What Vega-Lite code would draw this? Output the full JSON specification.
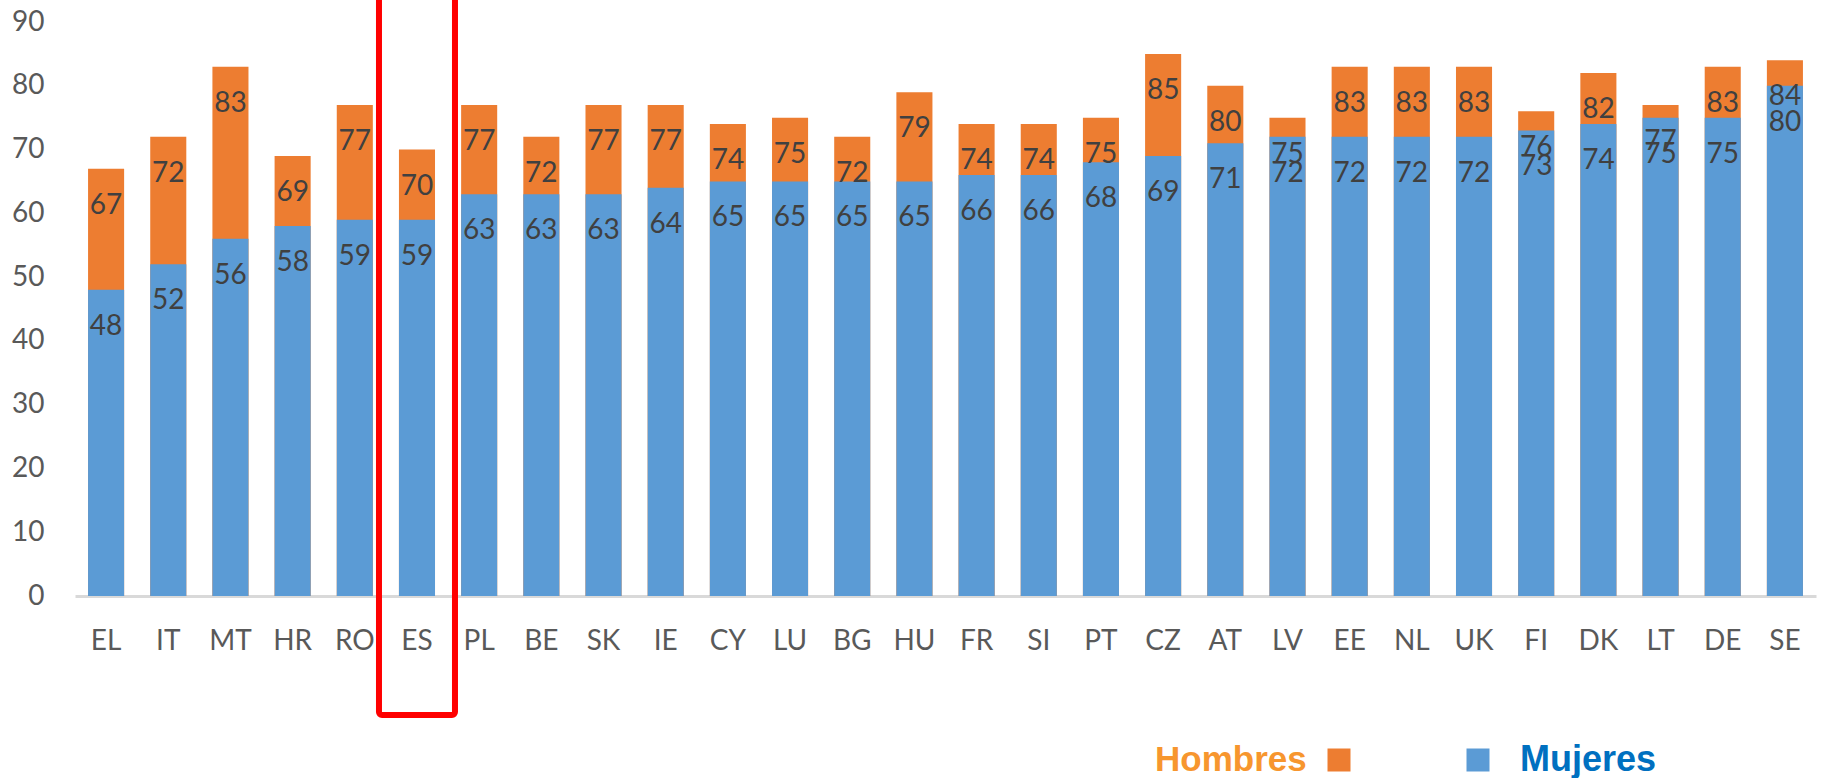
{
  "$schema": "https://vega.github.io/schema/vega-lite/v6.json",
  "width": 1741,
  "height": 574,
  "autosize": {"type": "none"},
  "padding": {"left": 75, "top": 22, "right": 8, "bottom": 182},
  "background": "white",
  "config": {"view": {"stroke": null}, "font": "Lato"},
  "data": {
    "values": [
      {"country": "EL", "mujeres": 48, "hombres": 67},
      {"country": "IT", "mujeres": 52, "hombres": 72},
      {"country": "MT", "mujeres": 56, "hombres": 83},
      {"country": "HR", "mujeres": 58, "hombres": 69},
      {"country": "RO", "mujeres": 59, "hombres": 77},
      {"country": "ES", "mujeres": 59, "hombres": 70},
      {"country": "PL", "mujeres": 63, "hombres": 77},
      {"country": "BE", "mujeres": 63, "hombres": 72},
      {"country": "SK", "mujeres": 63, "hombres": 77},
      {"country": "IE", "mujeres": 64, "hombres": 77},
      {"country": "CY", "mujeres": 65, "hombres": 74},
      {"country": "LU", "mujeres": 65, "hombres": 75},
      {"country": "BG", "mujeres": 65, "hombres": 72},
      {"country": "HU", "mujeres": 65, "hombres": 79},
      {"country": "FR", "mujeres": 66, "hombres": 74},
      {"country": "SI", "mujeres": 66, "hombres": 74},
      {"country": "PT", "mujeres": 68, "hombres": 75},
      {"country": "CZ", "mujeres": 69, "hombres": 85},
      {"country": "AT", "mujeres": 71, "hombres": 80},
      {"country": "LV", "mujeres": 72, "hombres": 75},
      {"country": "EE", "mujeres": 72, "hombres": 83},
      {"country": "NL", "mujeres": 72, "hombres": 83},
      {"country": "UK", "mujeres": 72, "hombres": 83},
      {"country": "FI", "mujeres": 73, "hombres": 76},
      {"country": "DK", "mujeres": 74, "hombres": 82},
      {"country": "LT", "mujeres": 75, "hombres": 77},
      {"country": "DE", "mujeres": 75, "hombres": 83},
      {"country": "SE", "mujeres": 80, "hombres": 84}
    ]
  },
  "encoding": {
    "x": {
      "field": "country",
      "type": "nominal",
      "sort": null,
      "scale": {"paddingInner": 0.42, "paddingOuter": 0.21},
      "axis": {
        "title": null,
        "labelAngle": 0,
        "ticks": false,
        "tickSize": 0,
        "labelPadding": 45,
        "labelBaseline": "middle",
        "labelFont": "Lato",
        "labelFontSize": 28,
        "labelColor": "#595959",
        "domainColor": "#D9D9D9",
        "domainWidth": 3,
        "grid": false
      }
    }
  },
  "layer": [
    {
      "mark": {"type": "bar"},
      "encoding": {
        "y": {
          "field": "hombres",
          "type": "quantitative",
          "stack": null,
          "scale": {"domain": [0, 90], "nice": false},
          "axis": {
            "title": null,
            "values": [0, 10, 20, 30, 40, 50, 60, 70, 80, 90],
            "domain": false,
            "ticks": false,
            "tickSize": 0,
            "grid": false,
            "labelPadding": 31,
            "labelFont": "Lato",
            "labelFontSize": 28,
            "labelColor": "#595959"
          }
        },
        "color": {
          "datum": "Hombres",
          "type": "nominal",
          "scale": {"domain": ["Hombres", "Mujeres"], "range": ["#ED7D31", "#5B9BD5"]},
          "legend": {
            "orient": "none",
            "legendX": 1080,
            "legendY": 720,
            "direction": "horizontal",
            "title": "Hombres",
            "titleOrient": "left",
            "titleColor": "#F7962E",
            "titleFont": "Liberation Sans",
            "titleFontSize": 35,
            "titleFontWeight": "bold",
            "titlePadding": 14,
            "labelExpr": "datum.label == 'Hombres' ? '' : datum.label",
            "labelColor": "#0070C0",
            "labelFont": "Liberation Sans",
            "labelFontSize": 36,
            "labelFontWeight": "bold",
            "labelOffset": 24,
            "symbolType": "square",
            "symbolSize": 529,
            "symbolStrokeWidth": 0,
            "symbolOpacity": 1,
            "columnPadding": 79
          }
        }
      }
    },
    {
      "mark": {"type": "bar"},
      "encoding": {
        "y": {"field": "mujeres", "type": "quantitative", "stack": null},
        "color": {"datum": "Mujeres", "type": "nominal"}
      }
    },
    {
      "mark": {"type": "text", "dy": 37, "baseline": "middle", "font": "Lato", "fontSize": 28, "color": "#404040"},
      "encoding": {
        "y": {"field": "hombres", "type": "quantitative"},
        "text": {"field": "hombres", "type": "quantitative"}
      }
    },
    {
      "mark": {"type": "text", "dy": 37, "baseline": "middle", "font": "Lato", "fontSize": 28, "color": "#404040"},
      "encoding": {
        "y": {"field": "mujeres", "type": "quantitative"},
        "text": {"field": "mujeres", "type": "quantitative"}
      }
    },
    {
      "transform": [{"filter": "datum.country == 'ES'"}],
      "mark": {"type": "bar", "width": 76, "fill": "transparent", "stroke": "#FF0000", "strokeWidth": 6, "cornerRadius": 3},
      "encoding": {
        "y": {"datum": 95, "type": "quantitative"},
        "y2": {"datum": -18.65}
      }
    }
  ]
}
